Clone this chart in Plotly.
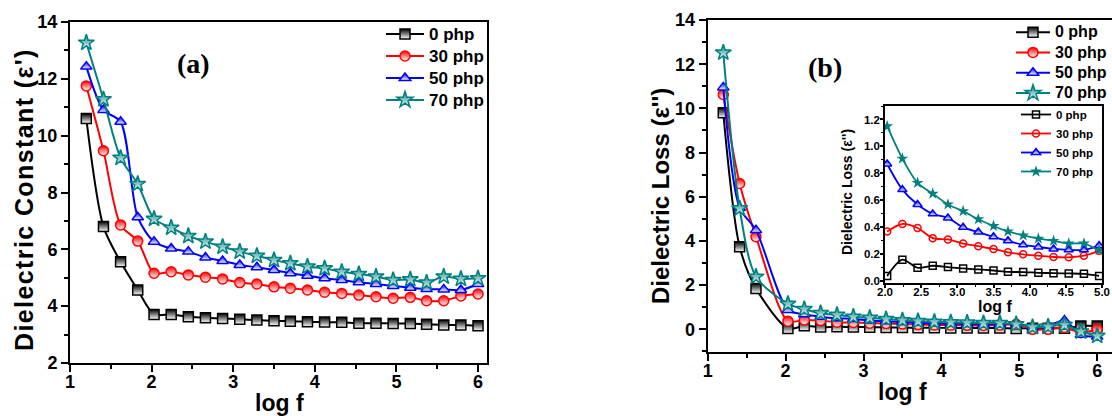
import plotly.graph_objects as go

W, H = 1112, 416

# ---------------- data ----------------
series_names = ["0 php", "30 php", "50 php", "70 php"]
series_colors = ["#000000", "#ff0000", "#0000ff", "#008080"]
series_symbols = ["square", "circle", "triangle-up", "star"]

# panel (a) : dielectric constant
xa = [1.20, 1.41, 1.62, 1.83, 2.03, 2.24, 2.45, 2.66, 2.87, 3.08, 3.29, 3.50,
      3.70, 3.91, 4.12, 4.33, 4.54, 4.75, 4.96, 5.17, 5.37, 5.58, 5.79, 6.00]
eps_a_0 = [10.60, 6.80, 5.56, 4.57, 3.71, 3.71, 3.63, 3.59, 3.57, 3.54, 3.51, 3.49,
           3.47, 3.45, 3.44, 3.43, 3.40, 3.40, 3.39, 3.39, 3.36, 3.34, 3.34, 3.31]
eps_a_30 = [11.75, 9.47, 6.86, 6.29, 5.16, 5.21, 5.10, 5.02, 4.96, 4.83, 4.78, 4.68,
            4.63, 4.57, 4.49, 4.45, 4.39, 4.33, 4.28, 4.31, 4.19, 4.19, 4.36, 4.43]
eps_a_50 = [12.43, 10.90, 10.49, 7.13, 6.27, 6.03, 5.92, 5.71, 5.59, 5.45, 5.37, 5.27,
            5.16, 5.07, 4.98, 4.92, 4.84, 4.78, 4.71, 4.65, 4.60, 4.59, 4.57, 4.78]
eps_a_70 = [13.27, 11.28, 9.22, 8.30, 7.07, 6.76, 6.47, 6.27, 6.09, 5.92, 5.77, 5.62,
            5.51, 5.39, 5.33, 5.21, 5.13, 5.04, 4.92, 4.94, 4.83, 5.04, 4.96, 4.98]

# panel (b) : dielectric loss
xb = [1.20, 1.41, 1.62, 2.03, 2.24, 2.45, 2.66, 2.87, 3.08, 3.29, 3.50,
      3.70, 3.91, 4.12, 4.33, 4.54, 4.75, 4.96, 5.17, 5.37, 5.58, 5.79, 6.00]
loss_0 = [9.80, 3.74, 1.85, 0.04, 0.16, 0.10, 0.115, 0.105, 0.095, 0.088, 0.080,
          0.070, 0.068, 0.063, 0.060, 0.058, 0.055, 0.040, 0.05, 0.05, 0.05, 0.15, 0.15]
loss_30 = [10.63, 6.60, 4.19, 0.37, 0.425, 0.395, 0.32, 0.31, 0.28, 0.26, 0.24,
           0.215, 0.20, 0.19, 0.18, 0.178, 0.19, 0.226, 0.0, 0.0, 0.08, -0.15, 0.0]
loss_50 = [10.95, 5.50, 4.49, 0.87, 0.68, 0.57, 0.50, 0.47, 0.40, 0.365, 0.33,
           0.30, 0.27, 0.255, 0.24, 0.233, 0.233, 0.265, 0.10, 0.15, 0.40, -0.25, -0.33]
loss_70 = [12.52, 5.47, 2.38, 1.15, 0.91, 0.73, 0.65, 0.57, 0.52, 0.46, 0.41,
           0.37, 0.34, 0.316, 0.30, 0.28, 0.28, 0.23, 0.10, 0.12, 0.20, -0.10, -0.30]

# inset uses the 2.03 ... 4.96 part of panel (b)
inset_start, inset_stop = 3, 18

eps_a = [eps_a_0, eps_a_30, eps_a_50, eps_a_70]
loss_b = [loss_0, loss_30, loss_50, loss_70]

# ---------------- figure ----------------
fig = go.Figure()
FONT = "Arial, 'Liberation Sans', sans-serif"


def half_marker(color, symbol, size):
    return dict(symbol=symbol, size=size, color=color,
                gradient=dict(type="vertical", color="white"),
                line=dict(color=color, width=1.5))


def label(name, px):
    return "<span style='font-size:%dpx'>%s</span>" % (px, name)


for i in range(4):
    c = series_colors[i]
    s = series_symbols[i]
    sz = 12 if s == "star" else 10
    fig.add_trace(go.Scatter(
        x=xa, y=eps_a[i], mode="lines+markers", name=label(series_names[i], 17),
        line=dict(color=c, width=2, shape="spline", smoothing=0.8),
        marker=half_marker(c, s, sz), xaxis="x", yaxis="y", legend="legend"))

for i in range(4):
    c = series_colors[i]
    s = series_symbols[i]
    sz = 12 if s == "star" else 10
    fig.add_trace(go.Scatter(
        x=xb, y=loss_b[i], mode="lines+markers", name=label(series_names[i], 16),
        line=dict(color=c, width=2, shape="spline", smoothing=0.8),
        marker=half_marker(c, s, sz), xaxis="x2", yaxis="y2", legend="legend2"))

inset_markers = [
    dict(symbol="square-open", size=7, color=series_colors[0], line=dict(width=1.5)),
    dict(symbol="circle-open", size=7, color=series_colors[1], line=dict(width=1.5)),
    half_marker(series_colors[2], "triangle-up", 8),
    dict(symbol="star", size=9, color=series_colors[3], line=dict(width=0)),
]
for i in range(4):
    c = series_colors[i]
    fig.add_trace(go.Scatter(
        x=xb[inset_start:inset_stop], y=loss_b[i][inset_start:inset_stop],
        mode="lines+markers", name=series_names[i],
        line=dict(color=c, width=1.8, shape="spline", smoothing=0.8),
        marker=inset_markers[i], xaxis="x3", yaxis="y3", legend="legend3"))


def axis(domain, rng, dtick, minor_dtick, tick0, fs, tl=7, mtl=4, lw=2, fmt=None,
         standoff=0):
    d = dict(domain=domain, range=rng, dtick=dtick, tick0=tick0,
             ticks="outside", ticklen=tl, tickwidth=lw, tickcolor="black",
             showline=True, linewidth=lw, linecolor="black", mirror=True,
             showgrid=False, zeroline=False, ticklabelstandoff=standoff,
             tickfont=dict(family=FONT, size=fs, color="black", weight="bold"),
             minor=dict(ticks="outside", dtick=minor_dtick, ticklen=mtl,
                        tickwidth=lw * 0.8, tickcolor="black", showgrid=False))
    if fmt:
        d["tickformat"] = fmt
    return d


def px_x(p):
    return p / W


def px_y(p):
    return 1 - p / H


fig.update_layout(
    width=W, height=H,
    margin=dict(l=0, r=0, t=0, b=0, autoexpand=False),
    paper_bgcolor="white", plot_bgcolor="white",
    showlegend=True,
    xaxis=axis([px_x(70), px_x(487)], [1, 6.11], 1, 0.5, 1, 18, standoff=-6),
    yaxis=dict(axis([px_y(363), px_y(22)], [2, 14], 2, 1, 2, 18), anchor="x"),
    xaxis2=dict(axis([px_x(707.7), 1.0], [1, 6.19], 1, 0.5, 1, 18, standoff=-6),
                anchor="y2"),
    yaxis2=dict(axis([px_y(352.3), px_y(20)], [-1.04, 14], 2, 1, 0, 18), anchor="x2"),
    xaxis3=dict(axis([px_x(885), px_x(1102)], [2, 5], 0.5, 0.25, 2, 11.5,
                     tl=3, mtl=2, lw=1.5, fmt=".1f", standoff=-6), anchor="y3"),
    yaxis3=dict(axis([px_y(283.3), px_y(106)], [-0.015, 1.3], 0.2, 0.1, 0, 11.5,
                     tl=3, mtl=2, lw=1.5, fmt=".1f", standoff=-2), anchor="x3"),
    legend=dict(x=px_x(381), y=px_y(18), xanchor="left", yanchor="top",
                bgcolor="rgba(0,0,0,0)", tracegroupgap=0, itemwidth=38,
                font=dict(family=FONT, size=14.6, color="black", weight="bold")),
    legend2=dict(x=px_x(1011), y=px_y(17), xanchor="left", yanchor="top",
                 bgcolor="rgba(0,0,0,0)", tracegroupgap=0, itemwidth=34,
                 font=dict(family=FONT, size=13.3, color="black", weight="bold")),
    legend3=dict(x=px_x(1016), y=px_y(100), xanchor="left", yanchor="top",
                 bgcolor="rgba(0,0,0,0)", tracegroupgap=0, itemwidth=30,
                 font=dict(family=FONT, size=11.5, color="black", weight="bold")),
)

title_font = dict(family=FONT, color="black", weight="bold")
annotations = [
    dict(text="(a)", x=px_x(193), y=px_y(63),
         font=dict(family="'Times New Roman', 'Liberation Serif', serif", size=28,
                   color="black", weight="bold")),
    dict(text="(b)", x=px_x(825), y=px_y(67),
         font=dict(family="'Times New Roman', 'Liberation Serif', serif", size=28,
                   color="black", weight="bold")),
    dict(text="<span style='letter-spacing:1.4px'>Dielectric Constant (ε')</span>",
         x=px_x(24), y=px_y(200), textangle=-90,
         font=dict(size=25, **title_font)),
    dict(text="log f", x=px_x(279), y=px_y(403), font=dict(size=23, **title_font)),
    dict(text="Dielectric Loss (ε'')", x=px_x(660), y=px_y(196), textangle=-90,
         font=dict(size=24, **title_font)),
    dict(text="log f", x=px_x(903), y=px_y(392), font=dict(size=23, **title_font)),
    dict(text="Dielectric Loss (ε'')", x=px_x(847), y=px_y(192), textangle=-90,
         font=dict(size=14, **title_font)),
    dict(text="log f", x=px_x(995), y=px_y(306), font=dict(size=16, **title_font)),
]
for a in annotations:
    a.update(xref="paper", yref="paper", showarrow=False,
             xanchor="center", yanchor="middle")
fig.update_layout(annotations=annotations)

fig.write_html("out.html",
               config={"displayModeBar": False},
               post_script="document.body.style.margin='0px';"
                           "document.body.style.overflow='hidden';")
